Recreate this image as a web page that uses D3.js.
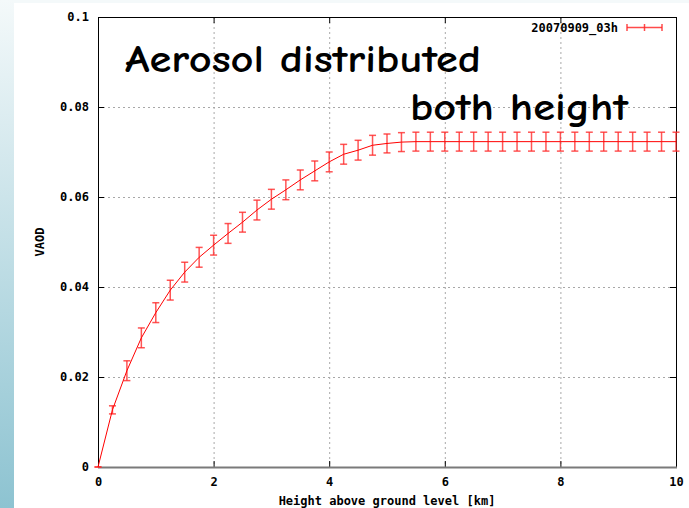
<!DOCTYPE html>
<html lang="en">
<head>
    <meta charset="UTF-8">
    <title>VAOD vs height</title>
    <script src="https://cdnjs.cloudflare.com/ajax/libs/d3/7.8.4/d3.min.js"></script>
    <style>
        body { margin: 0; background: #ffffff; }
        svg { display: block; }
        .mono { font-family: "DejaVu Sans Mono", monospace; font-weight: bold; font-size: 12px; fill: #000; }
    </style>
</head>
<body>
    <svg width="689" height="508"></svg>

    <script>
        // heights above ground level [km]
        const heights = [0, 0.25, 0.5, 0.75, 1, 1.25, 1.5, 1.75, 2, 2.25, 2.5, 2.75, 3, 3.25, 3.5, 3.75,
            4, 4.25, 4.5, 4.75, 5, 5.25, 5.5, 5.75, 6, 6.25, 6.5, 6.75, 7, 7.25, 7.5, 7.75,
            8, 8.25, 8.5, 8.75, 9, 9.25, 9.5, 9.75, 10];

        // VAOD
        const vaod = [0, 0.0127, 0.0214, 0.0287, 0.0343, 0.0393, 0.0433, 0.0466, 0.0493, 0.0519, 0.0544,
            0.0571, 0.0595, 0.0616, 0.0638, 0.0658, 0.0678, 0.0695, 0.0704, 0.0715, 0.0719, 0.0722,
            0.0723, 0.0723, 0.0723, 0.0723, 0.0723, 0.0723, 0.0723, 0.0723, 0.0723, 0.0723,
            0.0723, 0.0723, 0.0723, 0.0723, 0.0723, 0.0723, 0.0723, 0.0723, 0.0723];

        // half size of the error bars
        const vaodErr = [0, 0.0009, 0.0022, 0.0022, 0.0022, 0.0022, 0.0022, 0.0022, 0.0022, 0.0022, 0.0022,
            0.0022, 0.0022, 0.0022, 0.0022, 0.0022, 0.0022, 0.0022, 0.0022, 0.0022, 0.0021, 0.0021,
            0.0021, 0.0021, 0.0021, 0.0021, 0.0021, 0.0021, 0.0021, 0.0021, 0.0021, 0.0021,
            0.0021, 0.0021, 0.0021, 0.0021, 0.0021, 0.0021, 0.0021, 0.0021, 0.0021];

        const xTicks = [0, 2, 4, 6, 8, 10];
        const yTicks = [0, 0.02, 0.04, 0.06, 0.08, 0.1];
        const seriesName = "20070909_03h";
        const noteLines = ["Aerosol distributed", "both height"];

        const data = heights.map((h, i) => ({ h: h, v: vaod[i], e: vaodErr[i] }));

        const svg = d3.select("svg");

        // slide background strips
        const grad = svg.append("defs").append("linearGradient")
            .attr("id", "side").attr("x1", 0).attr("y1", 0).attr("x2", 0).attr("y2", 1);
        grad.append("stop").attr("offset", "0%").attr("stop-color", "#f4f9fa");
        grad.append("stop").attr("offset", "100%").attr("stop-color", "#8dc3d1");
        svg.append("rect").attr("x", 0).attr("y", 0).attr("width", 689).attr("height", 3).attr("fill", "#f4f9fa");
        svg.append("rect").attr("x", 0).attr("y", 0).attr("width", 14).attr("height", 508).attr("fill", "url(#side)");

        const plotL = 98, plotR = 676, plotT = 17, plotB = 467;

        const x = d3.scaleLinear().domain([0, 10]).range([plotL, plotR]);
        const y = d3.scaleLinear().domain([0, 0.1]).range([plotB, plotT]);

        // grid
        const grid = svg.append("g").attr("stroke", "#a8a8a8").attr("stroke-dasharray", "2,3");
        grid.selectAll("line.gx")
            .data(xTicks.filter(t => t > 0 && t < 10))
            .enter().append("line")
            .attr("x1", d => x(d) + 0.5).attr("x2", d => x(d) + 0.5)
            .attr("y1", plotT).attr("y2", plotB);
        grid.selectAll("line.gy")
            .data(yTicks.filter(t => t > 0 && t < 0.1))
            .enter().append("line")
            .attr("y1", d => y(d) + 0.5).attr("y2", d => y(d) + 0.5)
            .attr("x1", plotL).attr("x2", plotR);

        // axes (ticks point inward, mirrored on top and right)
        const axL = svg.append("g").attr("transform", `translate(${plotL},0)`)
            .call(d3.axisLeft(y).tickValues(yTicks).tickSize(-6).tickPadding(9).tickFormat(d => String(+d.toFixed(2))));
        const axB = svg.append("g").attr("transform", `translate(0,${plotB})`)
            .call(d3.axisBottom(x).tickValues(xTicks).tickSize(-6).tickPadding(10));
        const axR = svg.append("g").attr("transform", `translate(${plotR},0)`)
            .call(d3.axisRight(y).tickValues(yTicks).tickSize(-6).tickFormat(""));
        const axT = svg.append("g").attr("transform", `translate(0,${plotT})`)
            .call(d3.axisTop(x).tickValues(xTicks).tickSize(-6).tickFormat(""));

        [axL, axB, axR, axT].forEach(a => {
            a.select(".domain").remove();
            a.selectAll("text").attr("class", "mono").attr("fill", null);
        });

        // frame
        svg.append("rect")
            .attr("x", plotL + 0.5).attr("y", plotT + 0.5)
            .attr("width", plotR - plotL).attr("height", plotB - plotT)
            .attr("fill", "none").attr("stroke", "#000").attr("stroke-width", 1);
        svg.append("line")
            .attr("x1", plotL).attr("x2", plotR + 1)
            .attr("y1", plotB + 0.5).attr("y2", plotB + 0.5)
            .attr("stroke", "#7a7a7a").attr("stroke-width", 2);

        // axis titles
        svg.append("text").attr("class", "mono")
            .attr("x", (plotL + plotR) / 2).attr("y", 505)
            .attr("text-anchor", "middle")
            .text("Height above ground level [km]");
        svg.append("text").attr("class", "mono")
            .attr("transform", `translate(44,${(plotT + plotB) / 2}) rotate(-90)`)
            .attr("text-anchor", "middle")
            .text("VAOD");

        // error bars
        const errG = svg.append("g")
            .attr("stroke", "#ff2a2a").attr("stroke-opacity", 0.8).attr("stroke-width", 1.5);
        const bars = errG.selectAll("g.bar")
            .data(data)
            .enter().append("g").attr("class", "bar");
        bars.append("line")
            .attr("x1", d => x(d.h)).attr("x2", d => x(d.h))
            .attr("y1", d => y(d.v - d.e)).attr("y2", d => y(d.v + d.e));
        bars.append("line")
            .attr("x1", d => x(d.h) - 3.5).attr("x2", d => x(d.h) + 3.5)
            .attr("y1", d => y(d.v + d.e)).attr("y2", d => y(d.v + d.e));
        bars.append("line")
            .attr("x1", d => x(d.h) - 3.5).attr("x2", d => x(d.h) + 3.5)
            .attr("y1", d => y(d.v - d.e)).attr("y2", d => y(d.v - d.e));

        // the curve
        svg.append("path")
            .datum(data)
            .attr("fill", "none")
            .attr("stroke", "#ff0000")
            .attr("stroke-width", 1)
            .attr("d", d3.line().x(d => x(d.h)).y(d => y(d.v)));

        // legend
        svg.append("text").attr("class", "mono")
            .attr("x", 618).attr("y", 32)
            .attr("text-anchor", "end")
            .text(seriesName);
        const lg = svg.append("g").attr("stroke", "#ff2a2a").attr("stroke-width", 1.5).attr("stroke-opacity", 0.85);
        lg.append("line").attr("x1", 627).attr("x2", 662).attr("y1", 27.5).attr("y2", 27.5);
        [627, 644.5, 662].forEach(px => {
            lg.append("line").attr("x1", px).attr("x2", px).attr("y1", 24).attr("y2", 31);
        });

        // hand-written note on top of the plot
        const note = svg.append("g")
            .attr("font-family", "'Comic Sans MS', 'Comic Neue', 'DejaVu Sans', sans-serif")
            .attr("font-weight", "bold")
            .attr("font-size", 38)
            .attr("fill", "#000");
        note.append("text")
            .attr("x", 125).attr("y", 72)
            .attr("textLength", 356).attr("lengthAdjust", "spacingAndGlyphs")
            .text(noteLines[0]);
        note.append("text")
            .attr("x", 410).attr("y", 120)
            .attr("textLength", 218).attr("lengthAdjust", "spacingAndGlyphs")
            .text(noteLines[1]);
    </script>
</body>
</html>
